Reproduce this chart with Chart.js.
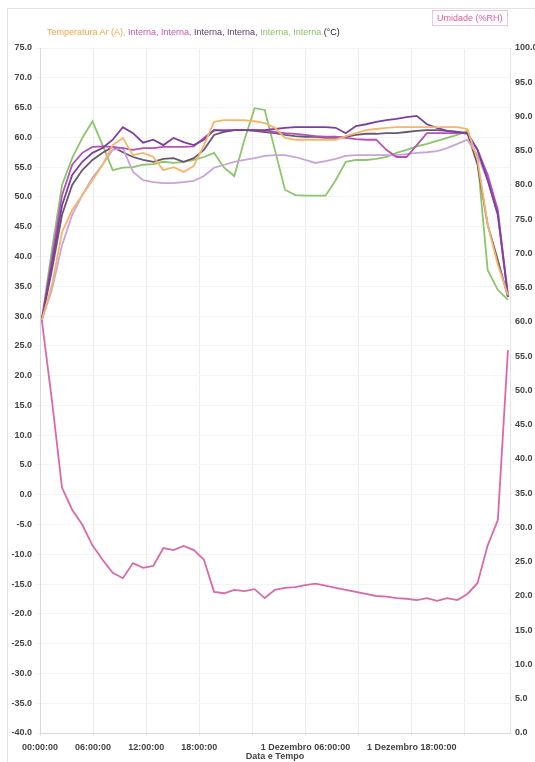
<!DOCTYPE html>
<html>
<head>
<meta charset="utf-8">
<script src="https://cdn.jsdelivr.net/npm/chart.js@4.4.1/dist/chart.umd.min.js"></script>
<style>
  html, body { margin: 0; padding: 0; background: #fff; }
  #wrap { position: relative; width: 535px; height: 762px; font-family: "Liberation Sans", Arial, sans-serif; }
  #frame { position: absolute; left: 7px; top: 8px; right: 0; bottom: 0; border-left: 1px solid #e4e4e4; border-top: 1px solid #e4e4e4; }
  #tempTitle { position: absolute; left: 47px; top: 27px; font-size: 9px; white-space: nowrap; }
  #humTitle { position: absolute; left: 432px; top: 10px; font-size: 9px; color: #d9609f; border: 1px solid #f2c4dc; padding: 2px 4px; }
  canvas { position: absolute; left: 0; top: 0; }
</style>
</head>
<body>
<div id="wrap">
  <div id="frame"></div>
  <canvas id="chart" width="535" height="762"></canvas>
  <div id="tempTitle">
    <span style="color:#f0a848">Temperatura Ar (A), </span><span style="color:#c05ab5">Interna, Interna, </span><span style="color:#5a3a70">Interna, Interna, </span><span style="color:#8cc56b">Interna, Interna </span><span style="color:#222">(°C)</span>
  </div>
  <div id="humTitle">Umidade (%RH)</div>
</div>
<script>
// sample timing (hours from start)
const startHour = 0.2;
const stepHours = 1.145;

// x tick labels every 6 hours (empty = skipped)
const tickLabels = ['00:00:00', '06:00:00', '12:00:00', '18:00:00', '', '1 Dezembro 06:00:00', '', '1 Dezembro 18:00:00', ''];

// temperatures (°C), left axis
const tempAr = [29.3, 35.2, 44.1, 47.8, 50.3, 52.8, 55.4, 58.7, 59.9, 57.0, 57.4, 56.7, 54.5, 55.0, 54.2, 55.2, 58.7, 62.6, 62.9, 62.9, 62.9, 62.7, 62.4, 61.6, 59.9, 59.6, 59.6, 59.6, 59.6, 59.6, 60.2, 60.7, 61.2, 61.4, 61.6, 61.7, 61.7, 61.7, 61.7, 61.7, 61.7, 61.7, 61.4, 56.2, 45.3, 38.6, 33.5];
const interna1 = [29.3, 38.6, 48.6, 53.7, 55.9, 57.4, 58.2, 59.6, 61.7, 60.7, 59.1, 59.6, 58.7, 59.9, 59.2, 58.7, 59.6, 61.2, 61.1, 61.2, 61.2, 61.2, 61.2, 61.4, 61.6, 61.7, 61.7, 61.7, 61.7, 61.6, 60.7, 61.9, 62.2, 62.6, 62.9, 63.1, 63.4, 63.6, 62.2, 61.6, 61.1, 60.9, 60.6, 57.9, 52.8, 47.0, 33.2];
const interna2 = [29.3, 39.7, 50.3, 55.4, 57.4, 58.4, 58.5, 58.4, 58.2, 57.9, 58.2, 58.2, 58.4, 58.4, 58.4, 58.5, 59.9, 61.2, 61.2, 61.2, 61.2, 61.2, 61.1, 60.9, 60.7, 60.6, 60.4, 60.2, 60.1, 60.1, 59.9, 59.7, 59.6, 59.6, 57.9, 56.7, 56.7, 58.7, 60.7, 60.7, 60.7, 60.7, 60.7, 57.9, 53.7, 47.8, 33.2];
const interna3 = [29.3, 34.4, 41.9, 47.0, 50.3, 53.2, 55.4, 57.9, 58.2, 54.2, 52.8, 52.5, 52.3, 52.3, 52.5, 52.7, 53.5, 54.9, 55.4, 55.9, 56.2, 56.5, 56.9, 57.0, 57.0, 56.7, 56.2, 55.7, 56.0, 56.4, 56.9, 57.0, 57.0, 57.0, 57.0, 57.0, 57.2, 57.4, 57.5, 57.7, 58.2, 58.9, 59.6, 57.0, 52.8, 47.0, 33.9];
const interna4 = [29.3, 37.7, 47.0, 52.0, 54.5, 56.2, 57.4, 58.4, 57.5, 56.7, 56.2, 55.9, 56.4, 56.5, 55.9, 56.5, 57.9, 60.4, 60.9, 61.2, 61.2, 61.1, 60.9, 60.7, 60.4, 60.2, 60.1, 60.1, 59.9, 59.9, 60.1, 60.4, 60.6, 60.6, 60.7, 60.7, 60.9, 61.1, 61.2, 61.2, 61.1, 60.9, 60.7, 55.4, 45.3, 39.4, 33.2];
const interna5 = [29.3, 41.1, 52.0, 56.5, 59.9, 62.7, 58.7, 54.5, 54.9, 55.0, 55.4, 55.5, 55.9, 55.7, 55.9, 56.2, 56.7, 57.4, 54.9, 53.5, 59.6, 64.9, 64.6, 57.9, 51.2, 50.3, 50.2, 50.2, 50.2, 52.8, 55.9, 56.2, 56.2, 56.4, 56.7, 57.4, 57.9, 58.5, 58.9, 59.4, 59.9, 60.4, 61.1, 56.2, 37.7, 34.4, 32.7];

// relative humidity (%RH), right axis
const umidade = [60.3, 48.6, 35.8, 32.6, 30.4, 27.4, 25.3, 23.4, 22.6, 24.8, 24.1, 24.4, 27.0, 26.7, 27.3, 26.7, 25.3, 20.6, 20.4, 20.9, 20.7, 21.0, 19.7, 20.9, 21.2, 21.3, 21.6, 21.8, 21.5, 21.2, 20.9, 20.6, 20.3, 20.0, 19.9, 19.7, 19.6, 19.4, 19.7, 19.3, 19.7, 19.4, 20.3, 21.9, 27.4, 31.1, 55.9];

const toPoints = arr => arr.map((v, i) => ({ x: startHour + i * stepHours, y: v }));

const tempSeries = [
  { label: 'Temperatura Ar (A)', data: tempAr, color: '#f5b66a' },
  { label: 'Interna', data: interna1, color: '#7b3f9e' },
  { label: 'Interna', data: interna2, color: '#b552b8' },
  { label: 'Interna', data: interna3, color: '#c9a3d9' },
  { label: 'Interna', data: interna4, color: '#6a5670' },
  { label: 'Interna', data: interna5, color: '#8cc56b' }
];

const datasets = tempSeries.map(s => ({
  label: s.label,
  data: toPoints(s.data),
  borderColor: s.color,
  borderWidth: 1.8,
  pointRadius: 0,
  tension: 0,
  yAxisID: 'y'
}));
datasets.push({
  label: 'Umidade (%RH)',
  data: toPoints(umidade),
  borderColor: '#d96aa9',
  borderWidth: 1.8,
  pointRadius: 0,
  tension: 0,
  yAxisID: 'y1'
});

const tickFont = { family: 'Liberation Sans', size: 9, weight: 'bold' };

new Chart(document.getElementById('chart').getContext('2d'), {
  type: 'line',
  data: { datasets },
  options: {
    responsive: false,
    animation: false,
    layout: { padding: { top: 48, left: 0, right: 0, bottom: 0 } },
    plugins: { legend: { display: false }, tooltip: { enabled: false } },
    scales: {
      x: {
        type: 'linear',
        min: 0,
        max: 53.1,
        afterFit: s => { s.height = 29; },
        ticks: {
          stepSize: 6,
          includeBounds: false,
          autoSkip: false,
          maxRotation: 0,
          padding: 6,
          color: '#444',
          font: tickFont,
          callback: v => tickLabels[Math.round(v / 6)] || ''
        },
        grid: { color: '#ececec', tickLength: 3 },
        border: { color: '#d8d8d8' },
        title: { display: true, text: 'Data e Tempo', color: '#444', font: tickFont, padding: 0 }
      },
      y: {
        position: 'left',
        min: -40,
        max: 75,
        afterFit: s => { s.width = 40; },
        ticks: { stepSize: 5, color: '#444', font: tickFont, padding: 4, callback: v => v.toFixed(1) },
        grid: { color: '#f4f4f4', tickLength: 4 },
        border: { color: '#d8d8d8' }
      },
      y1: {
        position: 'right',
        min: 0,
        max: 100,
        afterFit: s => { s.width = 25; },
        ticks: { stepSize: 5, color: '#444', font: tickFont, padding: 3, callback: v => v.toFixed(1) },
        grid: { drawOnChartArea: false, tickLength: 2 },
        border: { color: '#e4e4e4' }
      }
    }
  }
});
</script>
</body>
</html>
